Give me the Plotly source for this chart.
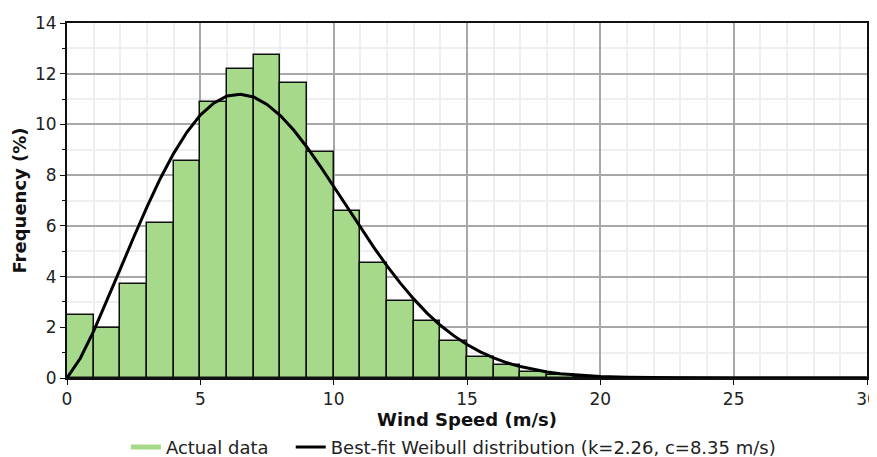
import plotly.graph_objects as go

# Histogram bins (left edges) and frequencies (%)
bin_left = list(range(0, 30))
freq = [2.50, 1.96, 3.70, 6.12, 8.55, 10.87, 12.18, 12.74, 11.65, 8.90,
        6.58, 4.55, 3.05, 2.25, 1.47, 0.82, 0.51, 0.22, 0.12, 0.05,
        0, 0, 0, 0, 0, 0, 0, 0, 0, 0]

# Best-fit Weibull curve
curve_x = [0, 0.5, 1, 1.5, 2, 2.5, 3, 3.5, 4, 4.5, 5, 5.5, 6, 6.5, 7, 7.5, 8,
           8.5, 9, 9.5, 10, 10.5, 11, 11.5, 12, 12.5, 13, 13.5, 14, 14.5, 15,
           15.5, 16, 16.5, 17, 17.5, 18, 18.5, 19, 19.5, 20, 21, 22, 23, 25, 30]
curve_y = [0, 0.78, 1.85, 3.05, 4.30, 5.55, 6.75, 7.87, 8.86, 9.70, 10.37,
           10.84, 11.12, 11.19, 11.08, 10.79, 10.35, 9.78, 9.10, 8.35, 7.56,
           6.75, 5.94, 5.16, 4.42, 3.74, 3.12, 2.56, 2.08, 1.67, 1.32, 1.03,
           0.79, 0.60, 0.45, 0.33, 0.24, 0.17, 0.13, 0.09, 0.06, 0.03, 0.01,
           0.005, 0.001, 0]

x_title = "Wind Speed (m/s)"
y_title = "Frequency (%)"
name_actual = "Actual data"
name_fit = "Best-fit Weibull distribution (k=2.26, c=8.35 m/s)"

bar_color = "#a6da8a"
font_family = "DejaVu Sans"

fig = go.Figure()

fig.add_trace(go.Bar(
    x=[b + 0.5 for b in bin_left], y=freq, width=1,
    marker=dict(color=bar_color, line=dict(color="#111111", width=1.5)),
    showlegend=False, hoverinfo="x+y",
))

# legend entry for bars (line-style swatch as in original)
fig.add_trace(go.Scatter(
    x=[None], y=[None], mode="lines", name=name_actual + "   ",
    line=dict(color=bar_color, width=5),
))

fig.add_trace(go.Scatter(
    x=curve_x, y=curve_y, mode="lines", name=name_fit,
    line=dict(color="black", width=3),
))

axis_common = dict(
    showline=True, linecolor="#111111", linewidth=2, mirror=True,
    ticks="outside", ticklen=5, tickwidth=1, tickcolor="#111111",
    showgrid=True, gridcolor="#a8a8a8", gridwidth=1.5,
    zeroline=False, automargin=False,
    tickfont=dict(family=font_family, size=17, color="#222222"),
)

# page body has an 8px default margin; margins compensate so the plot area
# lands where it is in the reference window
fig.update_layout(
    width=877, height=449,
    margin=dict(l=59, r=18, t=15, b=79, autoexpand=False),
    paper_bgcolor="white", plot_bgcolor="white",
    font=dict(family=font_family, color="#111111"),
    bargap=0,
    xaxis=dict(
        range=[0, 30], dtick=5, tick0=0,
        minor=dict(dtick=1, showgrid=True, gridcolor="#efefef", gridwidth=1.5),
        title=dict(text="<b>" + x_title + "</b>", font=dict(size=18, family=font_family),
                   standoff=4),
        **axis_common,
    ),
    yaxis=dict(
        range=[0, 14], dtick=2, tick0=0,
        minor=dict(dtick=1, showgrid=True, gridcolor="#efefef", gridwidth=1.5,
                   ticks="outside", ticklen=3, tickcolor="#111111"),
        title=dict(text="<b>" + y_title + "</b>", font=dict(size=18, family=font_family),
                   standoff=4),
        **axis_common,
    ),
    legend=dict(
        orientation="h", x=0.483, xanchor="center", y=-0.195, yanchor="middle",
        font=dict(size=18, family=font_family, color="#222222"),
        itemwidth=30, bgcolor="rgba(0,0,0,0)",
    ),
)

fig.write_html("out.html")
